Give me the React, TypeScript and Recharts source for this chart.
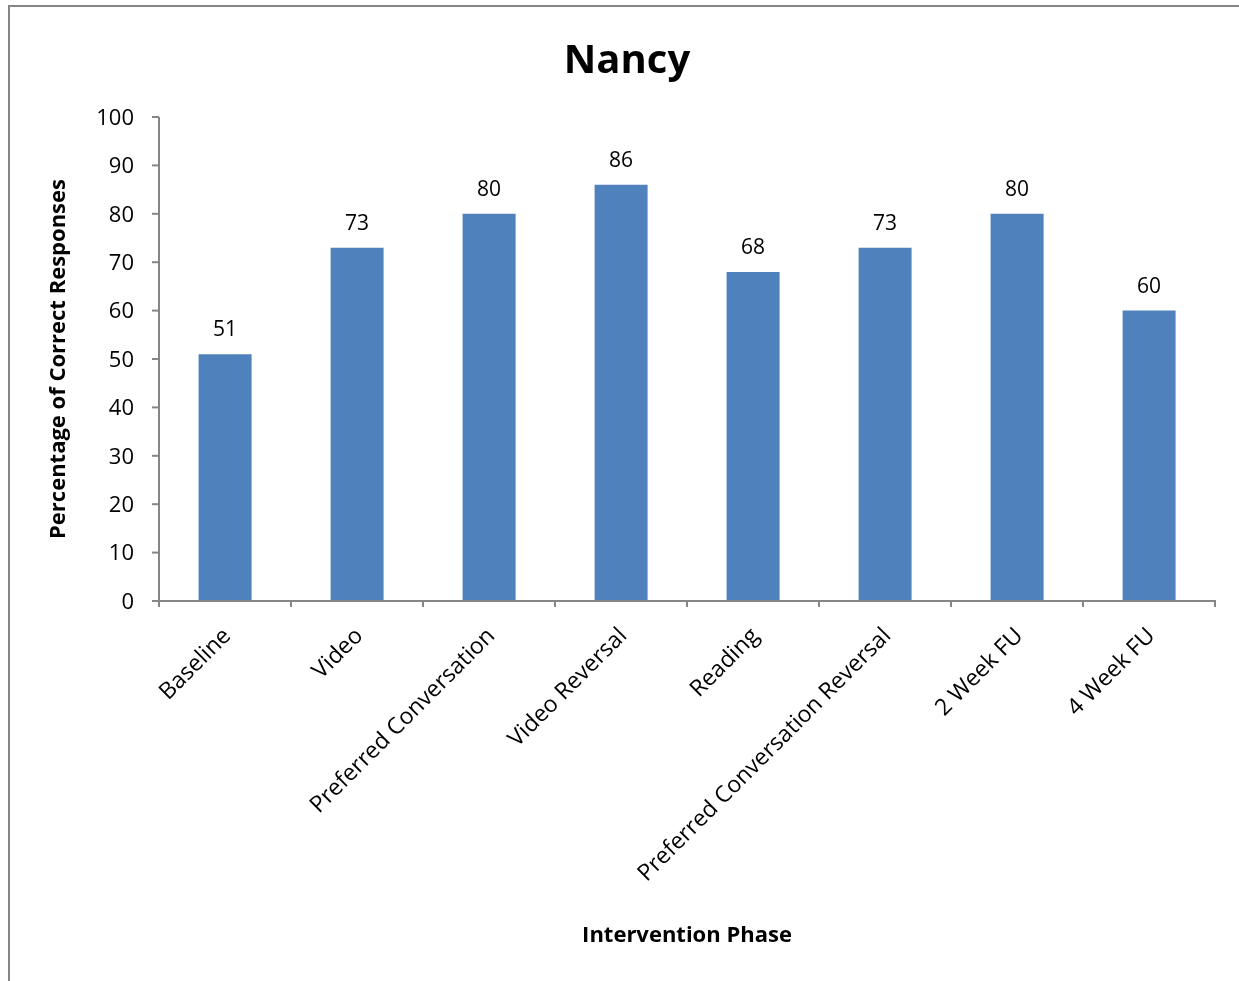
import React from 'react';
import { BarChart, Bar, XAxis, YAxis, LabelList, Label } from 'recharts';

const phases = [
  'Baseline',
  'Video',
  'Preferred Conversation',
  'Video Reversal',
  'Reading',
  'Preferred Conversation Reversal',
  '2 Week FU',
  '4 Week FU',
];
const correctPct = [51, 73, 80, 86, 68, 73, 80, 60];
const yTicks = [0, 10, 20, 30, 40, 50, 60, 70, 80, 90, 100];

const data = phases.map((phase, i) => ({ phase, value: correctPct[i] }));

const FONT = '"Open Sans", sans-serif';
const AXIS = '#868686';

// rotated category label plus the small marks at the band edges
const PhaseTick = ({ x, y, payload, index }: any) => {
  const half = payload.offset || 0;
  const last = index === phases.length - 1;
  return (
    <g transform={`translate(${x},${y})`}>
      <line x1={-half} y1={-1} x2={-half} y2={6} stroke={AXIS} strokeWidth={2} />
      {last && <line x1={half} y1={-1} x2={half} y2={6} stroke={AXIS} strokeWidth={2} />}
      <text
        x={7}
        y={36}
        textAnchor="end"
        transform="rotate(-45 7 36)"
        fontFamily={FONT}
        fontSize={23}
        fill="#000"
      >
        {payload.value}
      </text>
    </g>
  );
};

export default function App() {
  return (
    <div style={{ position: 'relative', width: 1231, height: 973, fontFamily: FONT }}>
      <div style={{ position: 'fixed', left: 8, top: 5, width: 1231, height: 2, background: AXIS }} />
      <div style={{ position: 'fixed', left: 8, top: 5, width: 2, height: 976, background: AXIS }} />
      <div
        style={{
          position: 'absolute',
          left: 0,
          top: 22,
          width: 1238,
          textAlign: 'center',
          fontWeight: 700,
          fontSize: 40,
          color: '#000',
        }}
      >
        Nancy
      </div>
      <BarChart
        width={1231}
        height={973}
        data={data}
        margin={{ top: 109, right: 24, bottom: 20, left: 51 }}
        barCategoryGap="30%"
      >
        <XAxis
          dataKey="phase"
          interval={0}
          tick={<PhaseTick />}
          tickLine={false}
          tickSize={0}
          tickMargin={0}
          axisLine={{ stroke: AXIS, strokeWidth: 2 }}
          height={360}
        >
          <Label
            value="Intervention Phase"
            position="insideBottom"
            offset={19}
            style={{ fontFamily: FONT, fontWeight: 700, fontSize: 22, fill: '#000' }}
          />
        </XAxis>
        <YAxis
          domain={[0, 100]}
          ticks={yTicks}
          interval={0}
          width={100}
          tickSize={7}
          tickMargin={18}
          tickLine={{ stroke: AXIS, strokeWidth: 2 }}
          axisLine={{ stroke: AXIS, strokeWidth: 2 }}
          tick={{ fontFamily: FONT, fontSize: 22, fill: '#000' }}
        >
          <Label
            value="Percentage of Correct Responses"
            angle={-90}
            position="insideLeft"
            offset={-2}
            style={{ fontFamily: FONT, fontWeight: 700, fontSize: 22, fill: '#000', textAnchor: 'middle' }}
          />
        </YAxis>
        <Bar dataKey="value" fill="#4F81BD" isAnimationActive={false}>
          <LabelList
            dataKey="value"
            position="top"
            offset={18}
            style={{ fontFamily: FONT, fontSize: 21, fill: '#000' }}
          />
        </Bar>
      </BarChart>
    </div>
  );
}
